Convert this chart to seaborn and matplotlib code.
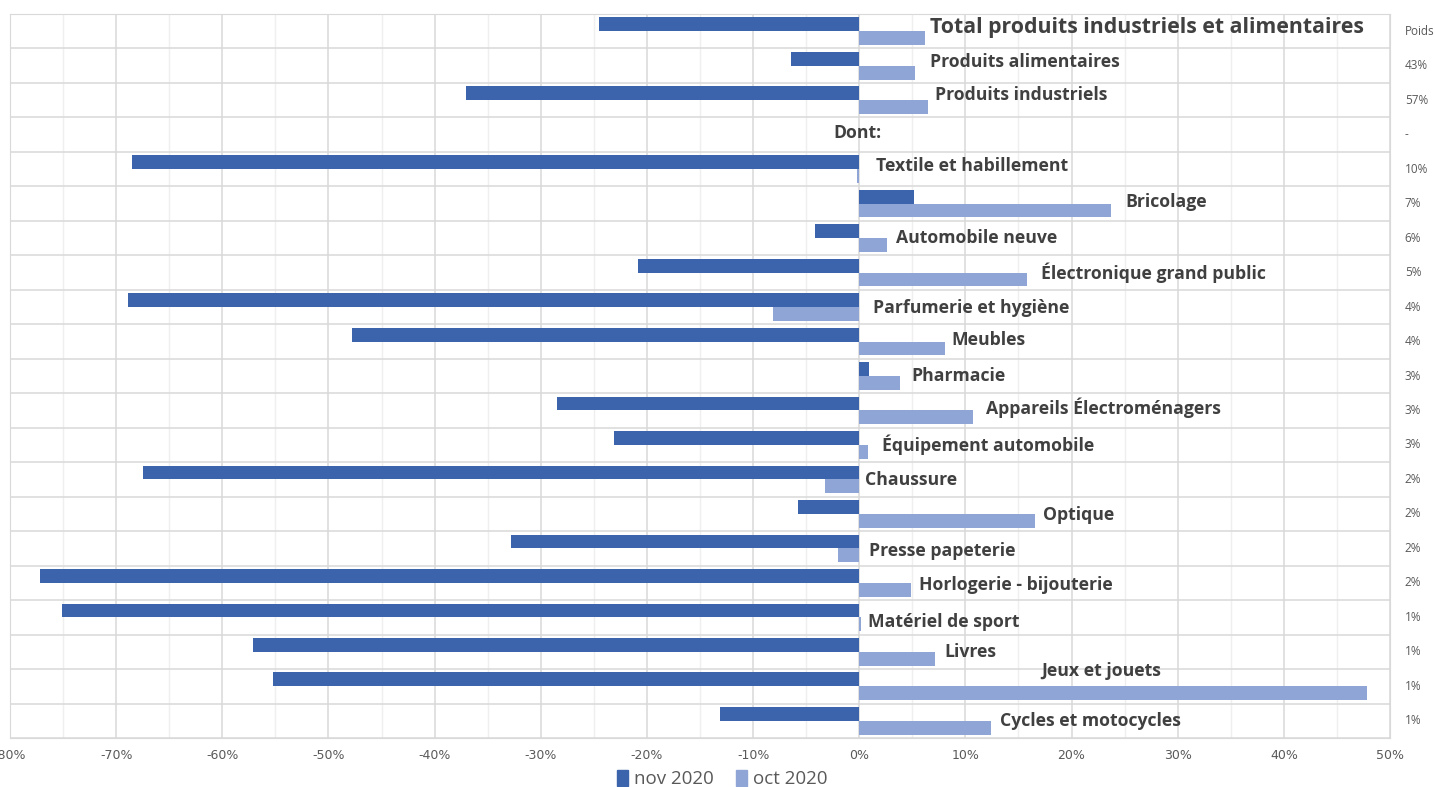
import pandas as pd
import numpy as np
import matplotlib
matplotlib.use('Agg')
import matplotlib.pyplot as plt
from matplotlib.ticker import MultipleLocator, FuncFormatter
from matplotlib.patches import Patch
import seaborn as sns

# data (percent change)
categories = ['Total produits industriels et alimentaires', 'Produits alimentaires',
              'Produits industriels', 'Dont:', 'Textile et habillement', 'Bricolage',
              'Automobile neuve', 'Électronique grand public', 'Parfumerie et hygiène',
              'Meubles', 'Pharmacie', 'Appareils Électroménagers', 'Équipement automobile',
              'Chaussure', 'Optique', 'Presse papeterie', 'Horlogerie - bijouterie',
              'Matériel de sport', 'Livres', 'Jeux et jouets', 'Cycles et motocycles']
nov_2020 = [-24.5, -6.4, -37.0, 0.0, -68.5, 5.2, -4.2, -20.8, -68.9, -47.8, 0.9,
            -28.5, -23.1, -67.5, -5.8, -32.8, -77.2, -75.1, -57.1, -55.2, -13.1]
oct_2020 = [6.2, 5.3, 6.5, 0.0, -0.2, 23.7, 2.6, 15.8, -8.1, 8.1, 3.8,
            10.7, 0.8, -3.2, 16.6, -2.0, 4.9, 0.2, 7.1, 47.8, 12.4]
poids = ['Poids', '43%', '57%', '-', '10%', '7%', '6%', '5%', '4%', '4%', '3%',
         '3%', '3%', '2%', '2%', '2%', '2%', '1%', '1%', '1%', '1%']

# where each category label sits (x in %, y shift in rows)
label_x = [6.7, 6.7, 7.1, -2.4, 1.6, 25.1, 3.5, 17.1, 1.3, 8.7, 4.9,
           11.9, 2.1, 0.5, 17.3, 0.9, 5.6, 0.8, 8.0, 17.1, 13.3]
label_dy = [-0.12, -0.1, -0.15, -0.05, -0.1, -0.05, 0, 0, 0.03, -0.05, 0,
            -0.07, 0, 0.02, 0.03, 0.07, 0.06, 0.13, 0, -0.45, 0]

df = pd.DataFrame({'cat': categories, 'nov 2020': nov_2020, 'oct 2020': oct_2020})
long = df.melt(id_vars='cat', var_name='mois', value_name='val')

dark = '#3C64AC'
light = '#8FA5D6'
txt = '#404040'
grid = '#d9d9d9'

sns.set_style('white')
fig = plt.figure(figsize=(14.35, 7.87), dpi=100)
ax = fig.add_axes([10 / 1435, 1 - 738 / 787, 1380 / 1435, 724 / 787])

sns.barplot(data=long, y='cat', x='val', hue='mois', order=categories,
            hue_order=['nov 2020', 'oct 2020'], palette=[dark, light],
            orient='h', width=0.8, saturation=1, linewidth=0,
            ax=ax, legend=False, zorder=3)

ax.set_xlim(-80, 50)
ax.set_ylim(len(categories) - 0.5, -0.5)
ax.set_xlabel('')
ax.set_ylabel('')

# grid
ax.xaxis.set_major_locator(MultipleLocator(10))
ax.xaxis.set_minor_locator(MultipleLocator(5))
ax.grid(axis='x', which='major', color=grid, lw=1.1, zorder=0)
ax.grid(axis='x', which='minor', color='#efefef', lw=1, zorder=0)
ax.set_yticks(np.arange(len(categories) + 1) - 0.5, minor=True)
ax.set_yticks([])
ax.grid(axis='y', which='minor', color=grid, lw=1.1, zorder=0)
ax.tick_params(axis='y', which='both', length=0, labelleft=False)
ax.tick_params(axis='x', which='both', length=0, pad=8, colors='#595959', labelsize=9)
ax.xaxis.set_major_formatter(FuncFormatter(lambda v, p: f'{v:.0f}%'))
for s in ax.spines.values():
    s.set_color(grid)

# category labels
for i, name in enumerate(categories):
    size = 15.3 if i == 0 else 12.7
    ax.text(label_x[i], i + label_dy[i], name, ha='left', va='center',
            fontsize=size, fontweight='bold', color=txt,
            family=['Open Sans', 'DejaVu Sans'], zorder=5)

# weights column on the right
for i, w in enumerate(poids):
    ax.text(51.4, i, w, ha='left', va='center', fontsize=8.5, color='#595959',
            family=['Open Sans', 'DejaVu Sans'], clip_on=False)

handles = [Patch(color=dark, label='nov 2020'), Patch(color=light, label='oct 2020')]
fig.legend(handles=handles, loc='center', bbox_to_anchor=(722 / 1435, 1 - 779 / 787),
           ncol=2, frameon=False, handlelength=0.6, handleheight=1.0,
           handletextpad=0.3, columnspacing=1.2, labelcolor='#595959',
           prop={'family': ['Open Sans', 'DejaVu Sans'], 'size': 13.5})

fig.savefig('out.png', dpi=100)
